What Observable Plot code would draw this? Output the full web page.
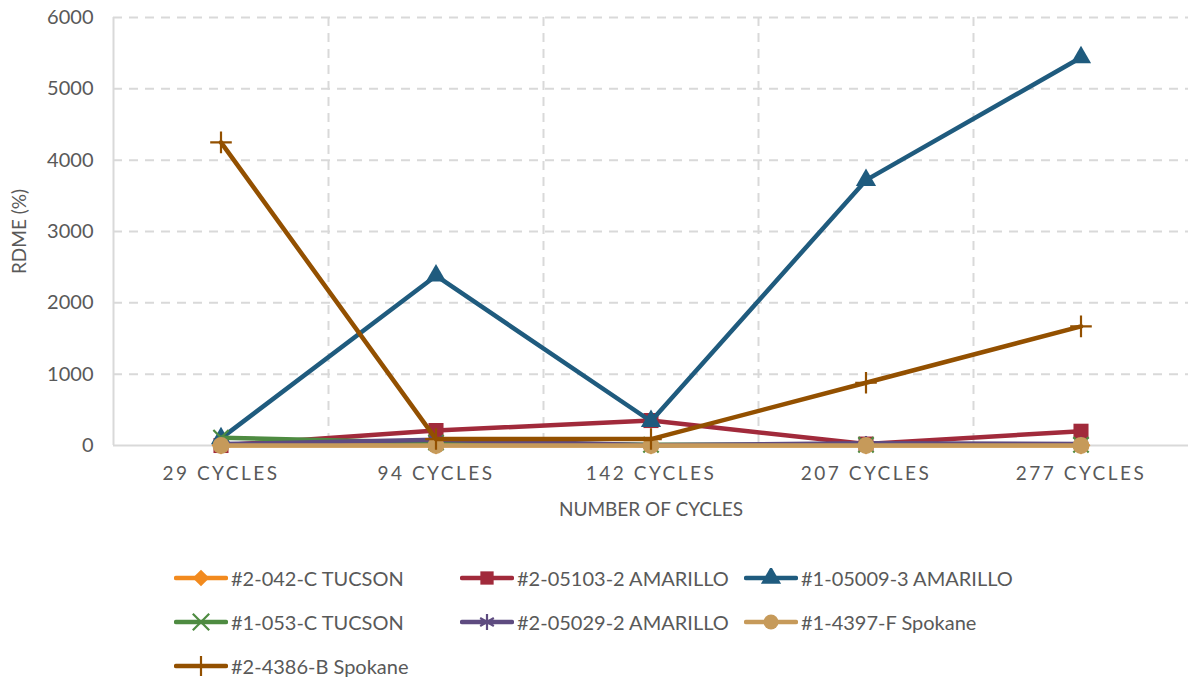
<!DOCTYPE html>
<html><head><meta charset="utf-8">
<script src="https://cdn.jsdelivr.net/npm/d3@7"></script>
<script src="https://cdn.jsdelivr.net/npm/@observablehq/plot@0.6"></script>
<style>
body{margin:0;background:#fff;font-family:Lato,"Liberation Sans",sans-serif;}
#chart svg{display:block}
#chart [aria-label="x-axis tick label"] text{letter-spacing:2.5px}
#chart [aria-label="y-axis tick label"] text{font-size:20px}
#legend{display:grid;grid-template-columns:286px 284px auto;padding-left:174px;padding-top:16px;color:#595959;font-size:20px}
.item{display:flex;align-items:center;height:44px;white-space:nowrap}
.item svg{flex:none;margin-right:3px}
</style></head><body>
<div id="chart"></div>
<div id="legend"></div>
<script>
const categories = ["29 CYCLES", "94 CYCLES", "142 CYCLES", "207 CYCLES", "277 CYCLES"];
const seriesNames = ["#2-042-C TUCSON", "#2-05103-2 AMARILLO", "#1-05009-3 AMARILLO", "#1-053-C TUCSON", "#2-05029-2 AMARILLO", "#1-4397-F Spokane", "#2-4386-B Spokane"];
const seriesColors = ["#F28A1E", "#A12A3B", "#1F5B7E", "#4E8B41", "#5E4B80", "#C69A5A", "#935000"];
const seriesSymbols = ["diamond2", "square", "triangle", "times", "asterisk", "circle", "plus"];
const tucson042 = [5, 5, 5, 5, 5];
const amarillo05103 = [0, 210, 350, 20, 200];
const amarillo05009 = [100, 2380, 340, 3720, 5440];
const tucson053 = [110, 40, 10, 10, 10];
const amarillo05029 = [20, 80, 5, 30, 20];
const spokane4397 = [0, 0, 0, 0, 0];
const spokane4386 = [4250, 90, 90, 880, 1670];
const yTicks = [0, 1000, 2000, 3000, 4000, 5000, 6000];

const seriesValues = [tucson042, amarillo05103, amarillo05009, tucson053, amarillo05029, spokane4397, spokane4386];
const n = categories.length;
const strokeSymbols = new Set(["times", "asterisk", "plus"]);

const series = seriesNames.map((name, s) => ({
  name, color: seriesColors[s], symbol: seriesSymbols[s],
  data: seriesValues[s].map((v, i) => ({i, cat: categories[i], value: v}))
}));

const grid = {stroke: "#d9d9d9", strokeOpacity: 1, strokeWidth: 2, strokeDasharray: "9,7"};
const boundaries = d3.range(1, n).map(i => i - 0.5);

const marks = [
  Plot.ruleY(yTicks.filter(v => v > 0), grid),
  Plot.ruleX(boundaries, grid),
  Plot.ruleX([-0.5], {stroke: "#d9d9d9", strokeWidth: 2}),
  Plot.ruleY([0], {stroke: "#d9d9d9", strokeWidth: 2}),
  Plot.axisY({ticks: yTicks, tickSize: 0, tickPadding: 20, tickFormat: d => String(d),
    label: "RDME (%)", labelAnchor: "center", labelOffset: 101, labelArrow: "none"}),
  Plot.axisX({ticks: d3.range(n), tickSize: 0, tickPadding: 21, tickFormat: i => categories[i],
    label: "NUMBER OF CYCLES", labelAnchor: "center", labelOffset: 70, labelArrow: "none"})
];
for (const s of series) {
  marks.push(Plot.line(s.data, {x: "i", y: "value", stroke: s.color, strokeWidth: 4.5, strokeLinejoin: "round"}));
  if (strokeSymbols.has(s.symbol)) {
    marks.push(Plot.dot(s.data, {x: "i", y: "value", symbol: s.symbol, r: 7, stroke: s.color, strokeWidth: 2.2, fill: "none"}));
  } else {
    marks.push(Plot.dot(s.data, {x: "i", y: "value", symbol: s.symbol, r: s.symbol === "triangle" ? 7.5 : 8.5, fill: s.color, stroke: "none"}));
  }
}

const chart = Plot.plot({
  width: 1188, height: 540,
  marginLeft: 113, marginRight: 0, marginTop: 17, marginBottom: 95,
  style: {fontFamily: 'Lato,"Liberation Sans",sans-serif', fontSize: "19px", color: "#595959", background: "#fff", overflow: "visible"},
  x: {domain: [-0.5, n - 0.5]},
  y: {domain: [0, 6000]},
  marks
});
document.getElementById("chart").append(chart);

// legend
const legend = d3.select("#legend");
for (const s of series) {
  const item = legend.append("div").attr("class", "item");
  const svg = item.append("svg").attr("width", 54).attr("height", 20);
  svg.append("line").attr("x1", 2).attr("x2", 52).attr("y1", 10).attr("y2", 10)
    .attr("stroke", s.color).attr("stroke-width", 4.5).attr("stroke-linecap", "round");
  const symType = {diamond2: d3.symbolDiamond2, square: d3.symbolSquare, triangle: d3.symbolTriangle,
    times: d3.symbolTimes, asterisk: d3.symbolAsterisk, circle: d3.symbolCircle, plus: d3.symbolPlus}[s.symbol];
  const p = svg.append("path").attr("transform", "translate(27,10)")
    .attr("d", d3.symbol(symType, Math.PI * 7.5 * 7.5)());
  if (strokeSymbols.has(s.symbol)) p.attr("fill", "none").attr("stroke", s.color).attr("stroke-width", 2.2);
  else p.attr("fill", s.color);
  item.append("span").text(s.name);
}
</script>
</body></html>
